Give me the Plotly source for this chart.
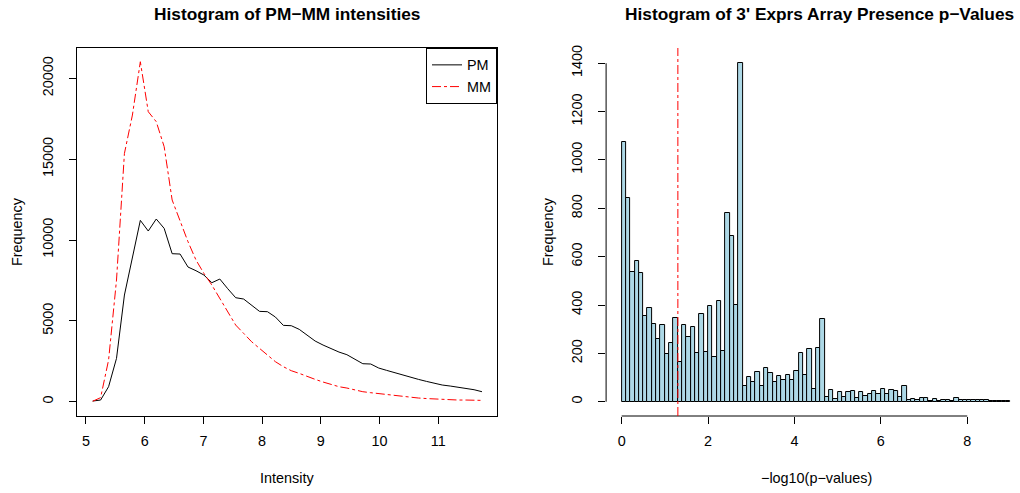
import math
import plotly.graph_objects as go

# ---------------- data ----------------
intensity = [5.114, 5.249, 5.385, 5.520, 5.655, 5.791, 5.926, 6.061, 6.197, 6.332,
             6.468, 6.603, 6.738, 6.874, 7.009, 7.144, 7.280, 7.415, 7.550, 7.686,
             7.821, 7.956, 8.092, 8.227, 8.362, 8.498, 8.633, 8.768, 8.904, 9.039,
             9.175, 9.310, 9.445, 9.581, 9.716, 9.851, 9.987, 10.122, 10.257, 10.393,
             10.528, 10.663, 10.799, 10.934, 11.069, 11.205, 11.340, 11.475, 11.611, 11.746]

pm_freq = [40, 103, 928, 2680, 6597, 8967, 11214, 10555, 11297, 10720,
           9153, 9132, 8328, 8101, 7833, 7359, 7586, 6988, 6432, 6349,
           5978, 5587, 5566, 5236, 4721, 4700, 4474, 4123, 3752, 3504,
           3278, 3071, 2907, 2639, 2350, 2330, 2082, 1938, 1793, 1629,
           1505, 1381, 1258, 1134, 1031, 969, 886, 845, 742, 618]

mm_freq = [30, 250, 2577, 7524, 15355, 17728, 21025, 17934, 17316, 15770,
           12472, 11132, 9895, 8761, 7937, 7215, 6390, 5566, 4741, 4226,
           3711, 3298, 2886, 2474, 2165, 1917, 1752, 1546, 1381, 1216,
           1051, 928, 845, 722, 618, 557, 495, 433, 371, 309,
           268, 227, 196, 165, 144, 124, 103, 103, 82, 82]

# presence p-value histogram: bins of 0.1 on -log10(p) from 0 to 9
bin_start = 0.0
bin_width = 0.1
pval_counts = [1076, 844, 538, 583, 531, 356, 386, 320, 258, 317,
               197, 241, 345, 166, 316, 269, 308, 200, 361, 207,
               396, 184, 418, 211, 779, 686, 400, 1403, 65, 104,
               81, 125, 67, 138, 117, 83, 108, 90, 112, 88,
               126, 200, 112, 217, 51, 221, 343, 21, 48, 10,
               39, 18, 41, 44, 14, 39, 22, 32, 43, 32,
               54, 32, 50, 46, 21, 65, 7, 10, 9, 14,
               14, 3, 11, 4, 9, 9, 4, 14, 7, 9,
               7, 7, 7, 7, 9, 3, 2, 2, 2, 2]
p_threshold = 0.05

left_xticks = [5, 6, 7, 8, 9, 10, 11]
left_yticks = [0, 5000, 10000, 15000, 20000]
right_xticks = [0, 2, 4, 6, 8]
right_yticks = [0, 200, 400, 600, 800, 1000, 1200, 1400]

bin_centers = [bin_start + bin_width * (i + 0.5) for i in range(len(pval_counts))]
thr = -math.log10(p_threshold)

# ---------------- figure ----------------
W, H = 1020, 493
L, R, T, B = 77, 0, 48, 77
pw = W - L - R
ph = H - T - B

def px_x(X):
    return (X - L) / pw

def px_y(Y):
    return (H - B - Y) / ph

FONT = "Liberation Sans, Arial, Helvetica, sans-serif"
FS = 14.4
FS_TITLE = 17.3

fig = go.Figure()
fig.add_trace(go.Scatter(x=intensity, y=pm_freq, mode="lines", name="PM",
                         line=dict(color="black", width=1), xaxis="x", yaxis="y"))
fig.add_trace(go.Scatter(x=intensity, y=mm_freq, mode="lines", name="MM",
                         line=dict(color="#FF0000", width=1, dash="dashdot"), xaxis="x", yaxis="y"))
fig.add_trace(go.Bar(x=bin_centers, y=pval_counts, width=bin_width, showlegend=False,
                     marker=dict(color="#ADD8E6", line=dict(color="black", width=1)),
                     xaxis="x2", yaxis="y2"))

axis_common = dict(showgrid=False, zeroline=False, ticks="outside", ticklen=7,
                   tickwidth=1, tickcolor="black",
                   tickfont=dict(size=FS, color="black", family=FONT))

right_dom0 = px_x(606.1)

def tt(vals):
    return [str(v) for v in vals]

fig.update_layout(
    width=W, height=H,
    margin=dict(l=L, r=R, t=T, b=B, pad=0),
    paper_bgcolor="white", plot_bgcolor="white",
    font=dict(family=FONT, color="black", size=FS),
    bargap=0,
    xaxis=dict(domain=[0, px_x(497)], range=[4.847, 12.002],
               tickvals=left_xticks, ticktext=tt(left_xticks), ticklabelstandoff=5,
               showline=True, mirror=True, linecolor="black", linewidth=1, anchor="y",
               **axis_common),
    yaxis=dict(domain=[0, 1], range=[-884, 21874],
               tickvals=left_yticks, ticktext=tt(left_yticks), tickangle=-90, ticklabelstandoff=10,
               showline=True, mirror=True, linecolor="black", linewidth=1, anchor="x",
               **axis_common),
    xaxis2=dict(domain=[right_dom0, 1], range=[-0.36, 9.221],
                tickvals=right_xticks, ticktext=tt(right_xticks), ticklabelstandoff=5,
                showline=False, anchor="y2", **axis_common),
    yaxis2=dict(domain=[0, 1], range=[-59, 1463],
                tickvals=right_yticks, ticktext=tt(right_yticks), tickangle=-90, ticklabelstandoff=10,
                showline=False, anchor="x2", **axis_common),
    legend=dict(x=px_x(497), xanchor="right", y=1, yanchor="top",
                bgcolor="white", bordercolor="black", borderwidth=1,
                font=dict(size=FS, family=FONT), itemwidth=30, tracegroupgap=0),
    showlegend=True,
)

# axis lines for right plot (R draws them only from first to last tick)
fig.add_shape(type="line", xref="x2", yref="paper", x0=right_xticks[0], x1=right_xticks[-1],
              y0=0, y1=0, line=dict(color="black", width=1))
fig.add_shape(type="line", xref="paper", yref="y2", x0=right_dom0, x1=right_dom0,
              y0=right_yticks[0], y1=right_yticks[-1], line=dict(color="black", width=1))
# threshold line
fig.add_shape(type="line", xref="x2", yref="y2 domain", x0=thr, x1=thr, y0=0, y1=1,
              line=dict(color="#FF0000", width=1, dash="dashdot"), layer="above")

ann = [
    dict(text="<b>Histogram of PM\u2212MM intensities</b>", x=px_x(287), y=px_y(14), size=FS_TITLE),
    dict(text="<b>Histogram of 3' Exprs Array Presence p\u2212Values</b>", x=px_x(819), y=px_y(14), size=FS_TITLE),
    dict(text="Intensity", x=px_x(287), y=px_y(478), size=FS),
    dict(text="\u2212log10(p\u2212values)", x=px_x(816), y=px_y(478), size=FS),
]
for a in ann:
    fig.add_annotation(text=a["text"], x=a["x"], y=a["y"], xref="paper", yref="paper",
                       showarrow=False, xanchor="center", yanchor="middle",
                       font=dict(size=a["size"], family=FONT, color="black"))
for X in (17, 548):
    fig.add_annotation(text="Frequency", x=px_x(X), y=px_y(232), xref="paper", yref="paper",
                       showarrow=False, textangle=-90, xanchor="center", yanchor="middle",
                       font=dict(size=FS, family=FONT, color="black"))

fig.write_html("out.html")
